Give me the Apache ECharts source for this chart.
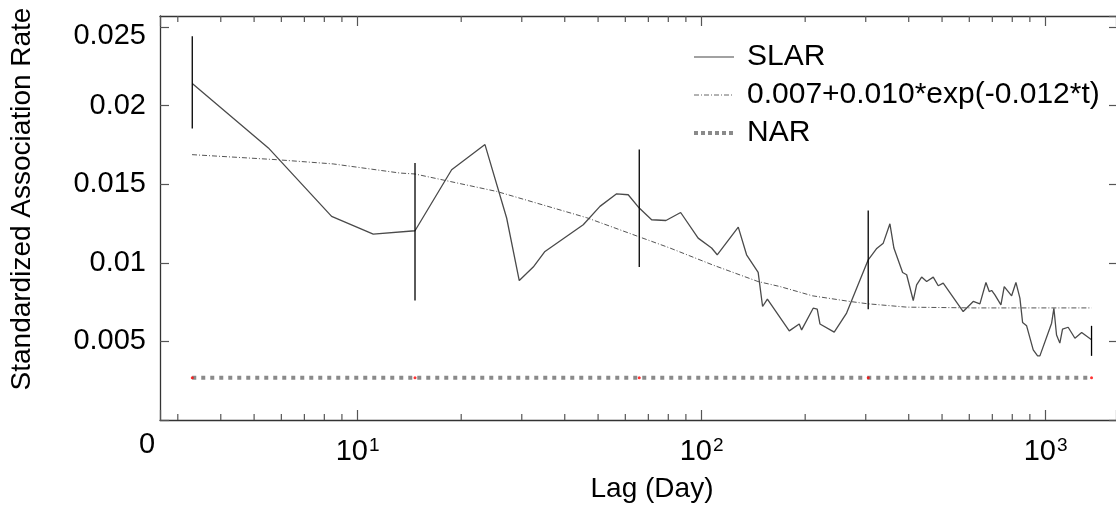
<!DOCTYPE html>
<html><head><meta charset="utf-8">
<script src="https://cdn.jsdelivr.net/npm/echarts@6/dist/echarts.min.js"></script>
<style>html,body{margin:0;padding:0;background:#fff}#c{width:1116px;height:509px}</style>
</head><body><div id="c"></div>
<script>
// ---- data ----
const slarLag = [3.305, 5.50, 8.40, 11.10, 14.68, 18.76, 23.45, 27.11, 29.50, 32.39, 35.04, 45.27, 50.63, 56.61, 61.17, 65.87, 71.55, 78.75, 86.9, 97.7, 106.9, 111.0, 127.8, 135.1, 146.0, 150.4, 155.3, 179.8, 192.2, 195.3, 211.0, 216.8, 220.8, 242.9, 263.9, 305.0, 322.2, 337.3, 352.7, 362.2, 384.0, 394.5, 412.3, 421.7, 436.1, 451.0, 471.4, 487.4, 503.9, 576.0, 616.0, 644.2, 670.7, 685.7, 696.8, 712.2, 741.5, 758.1, 796.6, 819.8, 842.0, 857.3, 880.7, 920.5, 947.8, 962.5, 1041, 1057, 1076, 1100, 1120, 1163, 1217, 1273, 1360];
const slarVal = [0.02140, 0.01731, 0.01295, 0.01183, 0.01204, 0.01592, 0.01752, 0.01285, 0.00887, 0.00973, 0.01072, 0.01242, 0.01359, 0.01439, 0.01433, 0.01348, 0.01274, 0.01269, 0.01320, 0.01157, 0.01094, 0.01051, 0.01227, 0.01051, 0.00939, 0.00722, 0.00769, 0.00567, 0.00611, 0.00573, 0.00711, 0.00705, 0.00611, 0.00559, 0.00680, 0.01019, 0.01089, 0.01125, 0.01248, 0.01094, 0.00938, 0.00924, 0.00760, 0.00860, 0.00909, 0.00881, 0.00909, 0.00854, 0.00871, 0.00690, 0.00754, 0.00739, 0.00875, 0.00817, 0.00824, 0.00796, 0.00732, 0.00849, 0.00790, 0.00875, 0.00775, 0.00620, 0.00599, 0.00446, 0.00408, 0.00408, 0.00616, 0.00711, 0.00541, 0.00489, 0.00578, 0.00590, 0.00520, 0.00556, 0.00510];

const fitLag = [3.30, 5.81, 8.49, 13.27, 14.68, 25.36, 46.3, 65.3, 80.9, 108.1, 145.8, 168.9, 210, 269.8, 305, 394.5, 614.8, 1360];
const fitVal = [0.01688, 0.01656, 0.01629, 0.01571, 0.01565, 0.01454, 0.01287, 0.01168, 0.01094, 0.00985, 0.00881, 0.00849, 0.00790, 0.00754, 0.00739, 0.00718, 0.00713, 0.00713];

const narLag = [3.305, 14.68, 65.87, 305.0, 1360];
const narVal = [0.00269, 0.00269, 0.00269, 0.00269, 0.00269];

const errLag = [3.305, 14.68, 65.87, 305.0, 1360];
const errLow = [0.01854, 0.00760, 0.00973, 0.00705, 0.00408];
const errHigh = [0.02441, 0.01635, 0.01720, 0.01333, 0.00599];

const xMinorTicks = [3, 4, 5, 6, 7, 8, 9, 20, 30, 40, 50, 60, 70, 80, 90, 200, 300, 400, 500, 600, 700, 800, 900];
const xTickExponents = { 10: '1', 100: '2', 1000: '3' };
const seriesNames = ['SLAR', '0.007+0.010*exp(-0.012*t)', 'NAR'];

// ---- chart ----
const FONT = 'Liberation Sans, Arial, Helvetica, sans-serif';
const X_MIN = 2.663, X_MAX = 1602;
const Y_MIN = 0, Y_MAX = 0.0257;

const chart = echarts.init(document.getElementById('c'), null, { renderer: 'canvas' });

function xLabel(v) {
  const k = Math.round(v);
  if (xTickExponents[k] && Math.abs(v - k) < 1e-6) return '{b|10}{s|' + xTickExponents[k] + '}';
  return '';
}

const axisLineStyle = { color: '#333', width: 1.3 };
const tickStyle = { color: '#555', width: 1.2 };

chart.setOption({
  animation: false,
  backgroundColor: '#fff',
  grid: { left: 160, right: 0, top: 16, bottom: 89, containLabel: false, outerBoundsMode: 'none' },
  legend: {
    orient: 'vertical', left: 692, top: 42, padding: 0,
    itemWidth: 40, itemHeight: 14, itemGap: 8,
    itemStyle: { opacity: 0, color: 'rgba(0,0,0,0)', borderWidth: 0 },
    textStyle: { fontFamily: FONT, fontSize: 30, color: '#000', lineHeight: 28, padding: [0, 0, 0, 8] },
    data: [
      { name: seriesNames[0], lineStyle: { color: '#444', width: 1.2, type: 'solid' } },
      { name: seriesNames[1], lineStyle: { color: '#666', width: 1, type: [5, 2, 1, 2] } },
      { name: seriesNames[2], lineStyle: { color: '#8a8a8a', width: 4, type: [4, 3], cap: 'butt' } }
    ]
  },
  xAxis: [
    {
      type: 'log', logBase: 10, min: X_MIN, max: X_MAX, position: 'bottom',
      axisLine: { show: true, onZero: false, lineStyle: axisLineStyle },
      axisTick: { show: true, inside: true, length: 10, lineStyle: tickStyle },
      splitLine: { show: false },
      axisLabel: {
        show: true, margin: 16, formatter: xLabel, color: '#000',
        rich: {
          b: { fontFamily: FONT, fontSize: 29, lineHeight: 30, color: '#000', verticalAlign: 'bottom' },
          s: { fontFamily: FONT, fontSize: 19, lineHeight: 30, color: '#000', verticalAlign: 'top', padding: [0, 0, 0, 1] }
        }
      }
    },
    {
      type: 'log', logBase: 10, min: X_MIN, max: X_MAX, position: 'top',
      axisLine: { show: true, onZero: false, lineStyle: axisLineStyle },
      axisTick: { show: true, inside: true, length: 10, lineStyle: tickStyle },
      splitLine: { show: false }, axisLabel: { show: false }
    }
  ],
  yAxis: [
    {
      type: 'value', min: Y_MIN, max: Y_MAX, interval: 0.005, position: 'left',
      axisLine: { show: true, onZero: false, lineStyle: axisLineStyle },
      axisTick: { show: true, inside: true, length: 9, lineStyle: tickStyle },
      splitLine: { show: false },
      axisLabel: {
        show: true, margin: 14, color: '#000', fontFamily: FONT, fontSize: 29,
        showMaxLabel: false,
        formatter: function (v) {
          if (v === 0) return '';
          const s = String(+v.toFixed(4));
          if (Math.abs(v - 0.025) < 1e-9) return '{t|' + s + '}';
          return s;
        },
        rich: { t: { fontFamily: FONT, fontSize: 29, color: '#000', padding: [18, 0, 0, 0] } }
      }
    },
    {
      type: 'value', min: Y_MIN, max: Y_MAX, interval: 0.005, position: 'right',
      axisLine: { show: false },
      axisTick: { show: true, inside: true, length: 7, lineStyle: tickStyle },
      splitLine: { show: false }, axisLabel: { show: false }
    }
  ],
  graphic: [
    { type: 'text', x: 22, y: 199, rotation: Math.PI / 2,
      style: { text: 'Standardized Association Rate', font: '28px ' + FONT, fill: '#000', textAlign: 'center', textVerticalAlign: 'middle' } },
    { type: 'text', x: 652, y: 489,
      style: { text: 'Lag (Day)', font: '28px ' + FONT, fill: '#000', textAlign: 'center', textVerticalAlign: 'middle' } },
    { type: 'text', x: 147, y: 445,
      style: { text: '0', font: '29px ' + FONT, fill: '#000', textAlign: 'center', textVerticalAlign: 'middle' } }
  ],
  series: [
    {
      name: 'minor ticks', type: 'custom', xAxisIndex: 0, yAxisIndex: 0, silent: true,
      data: xMinorTicks.map(v => [v, Y_MIN]),
      encode: { x: 0, y: 1 },
      renderItem: function (params, api) {
        const v = api.value(0);
        const b = api.coord([v, Y_MIN]);
        const t = api.coord([v, Y_MAX]);
        return { type: 'group', children: [
          { type: 'line', shape: { x1: b[0], y1: b[1], x2: b[0], y2: b[1] - 6 }, style: { stroke: '#555', lineWidth: 1.2 } },
          { type: 'line', shape: { x1: t[0], y1: t[1], x2: t[0], y2: t[1] + 6 }, style: { stroke: '#555', lineWidth: 1.2 } }
        ] };
      }
    },
    {
      name: seriesNames[2], type: 'line', data: narLag.map((l, i) => [l, narVal[i]]),
      symbol: 'none', color: '#8a8a8a',
      lineStyle: { color: '#8a8a8a', width: 4, type: [4, 5], cap: 'butt' }, z: 2
    },
    {
      name: 'NAR points', type: 'scatter', data: narLag.map((l, i) => [l, narVal[i]]),
      symbol: 'circle', symbolSize: 3, itemStyle: { color: '#ff0000' }, z: 3, silent: true
    },
    {
      name: seriesNames[1], type: 'line', data: fitLag.map((l, i) => [l, fitVal[i]]),
      symbol: 'none', color: '#555',
      lineStyle: { color: '#555', width: 1, type: [5, 2, 1, 2] }, z: 3
    },
    {
      name: seriesNames[0], type: 'line', data: slarLag.map((l, i) => [l, slarVal[i]]),
      symbol: 'none', color: '#555',
      lineStyle: { color: '#4a4a4a', width: 1.3 }, z: 4
    },
    {
      name: 'error bars', type: 'custom', silent: true,
      data: errLag.map((l, i) => [l, errLow[i], errHigh[i]]),
      encode: { x: 0, y: [1, 2] },
      renderItem: function (params, api) {
        const lag = api.value(0);
        const p1 = api.coord([lag, api.value(1)]);
        const p2 = api.coord([lag, api.value(2)]);
        return { type: 'line', shape: { x1: p1[0], y1: p1[1], x2: p2[0], y2: p2[1] }, style: { stroke: '#000', lineWidth: 1.3 } };
      }, z: 5
    }
  ]
});
</script></body></html>
